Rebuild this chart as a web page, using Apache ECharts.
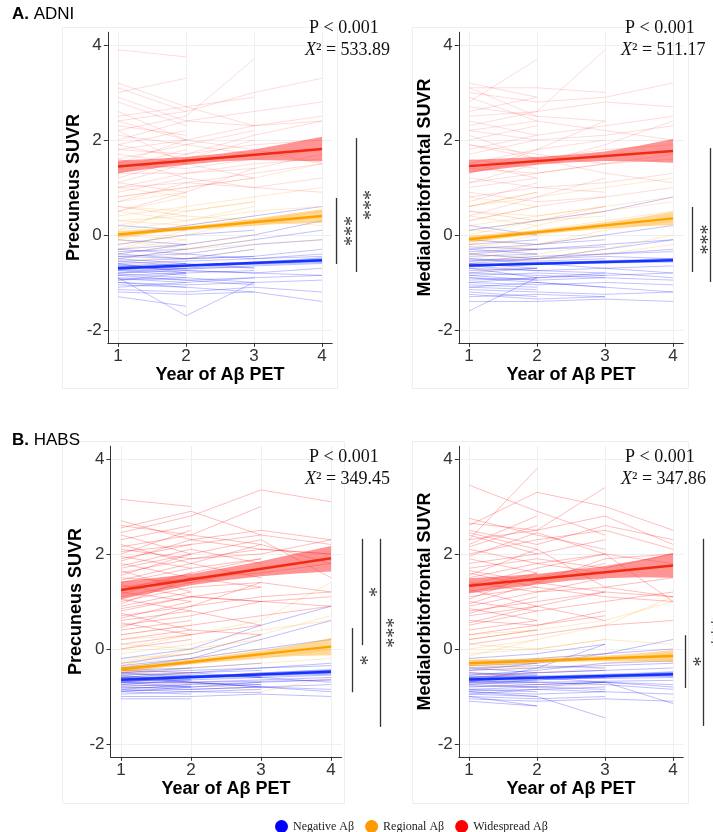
<!DOCTYPE html>
<html>
<head>
<meta charset="utf-8">
<script src="https://cdn.jsdelivr.net/npm/echarts@6/dist/echarts.min.js"></script>
<style>
  html, body { margin: 0; padding: 0; background: #ffffff; }
  #chart { width: 713px; height: 832px; }
</style>
</head>
<body>
<div id="chart"></div>
<script>
// ---- axes ----
const years = [1, 2, 3, 4];
const xTicks = [1, 2, 3, 4];
const yTicks = [-2, 0, 2, 4];
const bandX = [1, 1.5, 2, 2.5, 3, 3.5, 4];

const groupNames = ['Negative Aβ', 'Regional Aβ', 'Widespread Aβ'];
const groupColors = ['#0000ff', '#ff9900', '#ff0000'];
const fitColors = ['#1533ff', '#ffa200', '#f22a10'];
const bandColors = ['rgba(40,60,255,0.35)', 'rgba(255,170,20,0.45)', 'rgba(255,60,60,0.55)'];

// ---- ADNI, precuneus: individual trajectories (year 1..n) ----
const adniPrecNeg = [
  [0.2,0.1],[0.0,0.2,0.4,0.6],[-0.1,-0.2],[-0.2,0.0,0.1],[-0.3,-0.4,-0.2,-0.1],
  [-0.35,-0.3],[-0.4,-0.5,-0.3],[-0.45,-0.4,-0.5,-0.4],[-0.5,-0.6],[-0.55,-0.5,-0.45],
  [-0.6,-0.55,-0.5,-0.45],[-0.62,-0.7],[-0.65,-0.6,-0.7],[-0.7,-0.72,-0.65,-0.6],[-0.72,-0.8],
  [-0.75,-0.7,-0.68],[-0.8,-0.75,-0.8,-0.7],[-0.82,-0.9],[-0.85,-0.8,-0.75],[-0.9,-0.95,-0.9,-0.85],
  [-0.92,-1.0],[-0.95,-0.9,-1.0],[-1.0,-1.05,-1.0,-0.95],[-1.05,-1.1],[-1.1,-1.0,-0.9],
  [-1.15,-1.2,-1.1,-1.2],[-1.3,-1.5],[-0.9,-1.7,-1.0],[-1.0,-1.1,-1.2,-1.4],[-0.5,-0.3,-0.1,0.1],
  [-0.6,-0.8],[-0.7,-0.6],[-0.8,-0.7,-0.6,-0.55],[-0.4,-0.2],[-0.55,-0.65,-0.6],
  [-0.65,-0.75,-0.8,-0.85],[-0.75,-0.85],[-0.85,-0.95,-1.05],[-0.45,-0.5,-0.45,-0.3],[-0.95,-0.8],
  [-1.2,-1.25,-1.2],[-0.3,-0.2,0.0,0.3]
];
const adniPrecReg = [
  [1.0,0.8],[0.8,1.0,1.2,1.5],[0.6,0.5,0.7],[0.5,0.8],[0.4,0.6,0.8,1.0],
  [0.3,0.2],[0.2,0.5,0.7],[0.1,0.3,0.5,0.6],[0.0,-0.1],[-0.1,0.2,0.4],
  [-0.2,0.0,0.3,0.5],[-0.3,-0.1],[-0.4,-0.2,0.0],[-0.5,-0.3,-0.2,-0.1],[-0.6,-0.4],
  [-0.7,-0.5,-0.3],[0.7,0.9],[0.3,0.4,0.3,0.2],[-0.1,-0.3,-0.1],[0.1,0.6],
  [-0.3,0.1,0.2,0.4],[0.5,0.3,0.6]
];
const adniPrecWide = [
  [3.9,3.75],[3.2,2.7,2.3],[3.0,3.3],[2.9,2.4,2.6,2.8],[2.4,2.6,3.0,3.3],
  [2.2,2.5,3.7],[2.3,2.1],[2.0,2.4,2.3,2.4],[2.1,1.9,1.7],[1.9,2.2],
  [1.8,2.0,2.3,2.5],[1.7,1.5],[1.6,1.9,2.2],[1.5,1.4,1.6,1.8],[1.4,1.8],
  [1.3,1.3,1.5,1.6],[1.2,1.6,2.0],[1.1,0.9],[1.0,1.3,1.4,1.7],[0.9,1.2],
  [0.8,1.0,1.2],[0.7,1.1,1.3,1.5],[0.6,0.4],[2.6,2.0],[2.5,2.7,2.9],
  [1.6,1.2,1.0,0.9],[1.9,1.6],[2.2,1.5,1.2],[1.3,1.7,2.1,2.4],[1.1,1.5],
  [0.5,0.9,1.4],[2.8,2.3],[1.8,1.7,1.9,2.0],[1.5,2.0],[1.0,1.1,1.0,1.2],
  [3.1,2.6],[2.4,2.0,1.8,1.5]
];

// ---- ADNI, medial orbitofrontal ----
const adniMofNeg = [
  [0.2,0.0],[0.1,0.3,0.5,0.8],[-0.1,-0.2,-0.1],[-0.2,-0.1],[-0.25,-0.3,-0.2,-0.1],
  [-0.3,-0.4],[-0.35,-0.3,-0.25],[-0.4,-0.5,-0.4,-0.3],[-0.45,-0.4],[-0.5,-0.55,-0.5],
  [-0.55,-0.5,-0.45,-0.5],[-0.6,-0.7],[-0.65,-0.6,-0.55],[-0.7,-0.75,-0.7,-0.65],[-0.75,-0.7],
  [-0.8,-0.85,-0.9],[-0.85,-0.8,-0.85,-0.8],[-0.9,-0.95],[-0.95,-0.9,-0.85],[-1.0,-1.05,-1.0,-1.05],
  [-1.05,-1.1],[-1.1,-1.0,-1.1],[-1.15,-1.2,-1.25,-1.2],[-1.2,-1.3],[-1.3,-1.25,-1.3],
  [-1.4,-1.4,-1.35,-1.4],[-1.6,-0.9],[-0.6,-0.5,-0.3,-0.1],[-0.7,-0.9],[-0.5,-0.6,-0.7,-0.8],
  [-0.8,-0.7],[-0.9,-1.0,-1.1,-1.2],[-0.4,-0.3],[-1.0,-0.9,-0.8],[-0.3,-0.2,0.0,0.2],
  [-0.65,-0.75,-0.8,-0.9],[-1.1,-1.15],[-0.55,-0.45,-0.4,-0.35],[-0.85,-0.95,-0.9,-0.95],[-1.25,-1.35,-1.3]
];
const adniMofReg = [
  [0.8,0.6],[0.6,0.8,1.0,1.2],[0.5,0.4,0.6],[0.3,0.6],[0.2,0.4,0.6,0.8],
  [0.1,0.0],[0.0,0.3,0.5],[-0.1,0.1,0.3,0.5],[-0.2,-0.3],[-0.3,0.0,0.2],
  [-0.4,-0.2,0.1,0.3],[-0.5,-0.3],[-0.6,-0.4,-0.2],[-0.7,-0.5,-0.4,-0.2],[-0.8,-0.6],
  [0.4,0.2,0.5,0.7],[-0.2,0.2],[0.1,0.3,0.4],[-0.4,-0.5,-0.3,0.0],[0.6,0.9],
  [-0.1,-0.2,0.0]
];
const adniMofWide = [
  [3.2,2.9],[3.1,3.1,3.0],[3.0,2.8,2.9,3.2],[2.8,3.7],[2.7,2.5,2.4],
  [2.5,2.6,2.8,2.7],[2.4,2.1],[2.3,2.6,3.9],[2.2,2.0,2.1,2.3],[2.0,2.3],
  [1.9,1.7,1.5],[1.8,2.1,2.3,2.5],[1.6,1.4],[1.5,1.8,2.0],[1.4,1.3,1.5,1.7],
  [1.3,1.6],[1.2,1.0,0.9],[1.1,1.3,1.5,1.6],[1.0,1.2],[0.9,0.7,0.8],
  [0.8,1.0,1.1,1.3],[0.6,0.9],[0.5,0.3,0.6],[0.3,0.6,0.8,1.0],[2.6,2.9],
  [2.1,1.6,1.3,1.1],[1.7,2.0],[1.3,1.8,2.4],[0.7,1.1],[2.9,2.4,2.2,2.0],
  [1.5,1.2],[1.1,1.5,1.9,2.4],[0.4,0.8,1.2],[2.2,2.4],[1.9,1.6,1.8,1.9],
  [3.1,2.5]
];

// ---- HABS, precuneus ----
const habsPrecNeg = [
  [-0.2,0.0,0.5,0.9],[-0.3,-0.1,0.3],[-0.35,-0.2,0.2,0.6],[-0.4,-0.3],[-0.45,-0.4,-0.3],
  [-0.5,-0.45,-0.4,-0.3],[-0.52,-0.55],[-0.55,-0.5,-0.45],[-0.58,-0.6,-0.55,-0.5],[-0.6,-0.65],
  [-0.62,-0.6,-0.58],[-0.65,-0.7,-0.65,-0.6],[-0.68,-0.65],[-0.7,-0.72,-0.75],[-0.72,-0.7,-0.68,-0.65],
  [-0.75,-0.8],[-0.78,-0.75,-0.7],[-0.8,-0.85,-0.8,-0.75],[-0.82,-0.8],[-0.85,-0.9,-0.85],
  [-0.88,-0.85,-0.8,-0.85],[-0.9,-0.95],[-0.95,-0.9,-0.92],[-1.0,-1.0,-0.95,-1.0],[-1.05,-1.05],
  [-0.6,-0.5,-0.4,-0.35],[-0.7,-0.6,-0.5,-0.45],[-0.5,-0.6],[-0.65,-0.55,-0.6],[-0.75,-0.65,-0.6,-0.55],
  [-0.55,-0.7,-0.8],[-0.45,-0.5,-0.6,-0.7],[-0.85,-0.75],[-0.4,-0.2,0.0,0.2],[-0.6,-0.7,-0.8,-0.9],
  [-0.9,-0.8,-0.75],[-0.5,-0.4],[-0.7,-0.8,-0.7,-0.65]
];
const habsPrecReg = [
  [0.3,0.5],[0.2,0.3,0.6,1.4],[0.1,0.0,0.2],[0.0,0.3],[-0.1,0.1,0.4,0.6],
  [-0.2,-0.1],[-0.3,-0.2,0.0],[-0.4,-0.3,-0.2,0.0],[-0.45,-0.5],[-0.5,-0.3,-0.1],
  [-0.55,-0.4,-0.3,-0.2],[-0.6,-0.5],[-0.7,-0.6,-0.5],[-0.8,-0.7,-0.9,-0.6],[-0.35,0.0],
  [-0.25,-0.1,0.3,0.7]
];
const habsPrecWide = [
  [3.15,3.0],[2.45,2.8,3.35,3.1],[2.55,2.9,2.4],[2.7,2.3,2.1,2.0],[2.15,2.4,3.0],
  [2.1,1.9,2.0,2.3],[2.0,2.5],[1.9,2.2,2.4,2.2],[1.8,1.5,1.3],[1.7,2.0],
  [1.6,1.9,2.1,2.0],[1.5,1.4],[1.4,1.7,1.9],[1.3,1.5,1.6,1.8],[1.2,1.0],
  [1.1,1.4,1.7],[1.0,1.3,1.4,1.2],[0.9,1.2],[0.8,1.1,1.3],[0.7,0.9,1.1,1.2],
  [0.6,0.8],[0.5,0.7,1.0],[0.4,0.6],[0.3,0.5,0.7,0.9],[0.2,0.4],
  [0.1,0.3,0.5],[0.0,0.2],[2.3,2.6],[2.2,1.8,1.5],[1.85,2.3,2.5,2.3],
  [1.65,1.2],[1.45,1.8,2.2],[1.25,1.6],[1.05,0.8,0.5],[0.85,1.1,1.0,0.9],
  [0.65,1.0],[0.45,0.9,1.4],[2.6,2.4,2.2,1.8],[1.95,1.7],[1.55,2.0,2.3,1.5],
  [0.95,1.5],[0.75,0.4,0.3],[1.35,1.1,1.0,1.1],[1.15,1.6,1.9],[2.05,2.2],
  [0.55,0.3],[1.75,2.1,1.8],[2.4,2.0]
];

// ---- HABS, medial orbitofrontal ----
const habsMofNeg = [
  [-0.2,-0.1,0.1],[-0.3,-0.2,-0.1,0.0],[-0.35,-0.3],[-0.4,-0.35,-0.4],[-0.45,-0.4,-0.35,-0.3],
  [-0.5,-0.55],[-0.55,-0.5,-0.45],[-0.58,-0.6,-0.55,-0.5],[-0.6,-0.55],[-0.62,-0.65,-0.6],
  [-0.65,-0.6,-0.62,-0.6],[-0.68,-0.7],[-0.7,-0.75,-0.7],[-0.72,-0.7,-0.68,-0.66],[-0.75,-0.8],
  [-0.78,-0.8,-0.85],[-0.8,-0.75,-0.7,-0.75],[-0.85,-0.9],[-0.88,-0.85,-0.8],[-0.9,-0.95,-0.9,-0.95],
  [-0.95,-1.0],[-1.0,-1.05,-1.0],[-1.05,-1.1,-1.05,-1.1],[-1.1,-1.2],[-0.7,-0.4,0.1],
  [-0.9,-1.0,-1.45],[-0.6,-0.5,-0.45,-0.4],[-0.5,-0.6,-0.7,-0.8],[-0.75,-0.65],[-0.65,-0.7,-0.75,-0.85],
  [-0.4,-0.5],[-0.85,-0.8,-0.7,-1.15],[-0.55,-0.45,-0.3,-0.25],[-0.95,-0.85,-0.9],[-0.45,-0.3,-0.1,0.2],
  [-1.0,-1.2],[-0.7,-0.65,-0.6,-0.55]
];
const habsMofReg = [
  [0.3,0.4],[0.2,0.4,0.6,1.0],[0.1,0.0,0.2],[0.0,0.2],[-0.1,0.0,0.2,0.1],
  [-0.2,-0.3],[-0.25,-0.2,-0.1],[-0.3,-0.25,-0.2,-0.1],[-0.35,-0.4],[-0.4,-0.3,-0.2],
  [-0.45,-0.4,-0.3,-0.2],[-0.5,-0.6],[-0.6,-0.5,-0.4],[-0.15,0.2,0.5,1.1],[-0.7,-0.8,-0.75]
];
const habsMofWide = [
  [3.45,2.9,2.4],[2.3,3.8],[2.75,2.4,2.1],[2.6,3.3,3.0,2.5],[2.5,2.2,2.6,2.3],
  [2.4,2.0],[2.3,2.5,2.8,2.2],[2.2,2.8],[2.1,1.8,1.6],[2.0,2.3,2.5,2.1],
  [1.9,1.6],[1.8,2.0,2.3],[1.7,1.9,1.7,2.0],[1.6,1.3],[1.5,1.8,2.0],
  [1.4,1.2,1.3,1.5],[1.3,1.6],[1.2,1.5,1.8],[1.1,1.3,1.1,1.0],[1.0,0.8],
  [0.9,1.2,1.5],[0.8,1.0,1.2,1.1],[0.7,0.9],[0.6,0.5,0.8],[0.5,0.8,1.0,1.2],
  [0.4,0.6],[0.3,0.5,0.7],[0.2,0.4],[0.1,0.3,0.5,0.6],[2.65,2.5,3.4],
  [1.95,2.45,2.0,1.8],[1.55,2.1],[1.25,0.9,0.6],[0.95,1.4,1.9,2.0],[0.75,1.1],
  [2.45,2.1,1.3,1.1],[1.65,1.4,1.2],[1.05,1.6],[0.55,0.9,1.2],[2.15,2.6],
  [1.35,1.7,2.0,1.0],[0.85,0.6]
];

// ---- model fits: value at year 1 and year 4 ----
const adniPrecFitNeg = [-0.70, -0.53], adniPrecFitReg = [0.01, 0.40], adniPrecFitWide = [1.44, 1.81];
const adniMofFitNeg = [-0.64, -0.53], adniMofFitReg = [-0.09, 0.35], adniMofFitWide = [1.45, 1.77];
const habsPrecFitNeg = [-0.65, -0.48], habsPrecFitReg = [-0.43, 0.05], habsPrecFitWide = [1.24, 1.91];
const habsMofFitNeg = [-0.64, -0.53], habsMofFitReg = [-0.30, -0.15], habsMofFitWide = [1.33, 1.76];

// ---- 95% confidence bands at bandX ----
const adniPrecNegLo = [-0.74,-0.70,-0.67,-0.65,-0.63,-0.61,-0.59];
const adniPrecNegHi = [-0.66,-0.64,-0.62,-0.59,-0.56,-0.52,-0.47];
const adniPrecRegLo = [-0.06,0.03,0.10,0.16,0.20,0.24,0.26];
const adniPrecRegHi = [0.08,0.13,0.18,0.25,0.34,0.44,0.54];
const adniPrecWideLo = [1.30,1.40,1.48,1.55,1.58,1.57,1.55];
const adniPrecWideHi = [1.57,1.60,1.64,1.71,1.80,1.93,2.07];

const adniMofNegLo = [-0.68,-0.65,-0.63,-0.615,-0.60,-0.59,-0.58];
const adniMofNegHi = [-0.60,-0.59,-0.57,-0.555,-0.53,-0.51,-0.48];
const adniMofRegLo = [-0.16,-0.07,0.02,0.08,0.13,0.18,0.21];
const adniMofRegHi = [-0.02,0.04,0.10,0.18,0.27,0.37,0.49];
const adniMofWideLo = [1.31,1.40,1.48,1.53,1.56,1.55,1.52];
const adniMofWideHi = [1.58,1.61,1.64,1.69,1.76,1.88,2.02];

const habsPrecNegLo = [-0.70,-0.66,-0.63,-0.60,-0.58,-0.56,-0.54];
const habsPrecNegHi = [-0.60,-0.58,-0.55,-0.53,-0.50,-0.46,-0.42];
const habsPrecRegLo = [-0.50,-0.40,-0.32,-0.25,-0.19,-0.15,-0.13];
const habsPrecRegHi = [-0.36,-0.30,-0.22,-0.13,-0.03,0.09,0.23];
const habsPrecWideLo = [1.05,1.20,1.34,1.45,1.53,1.59,1.63];
const habsPrecWideHi = [1.42,1.50,1.58,1.71,1.85,2.01,2.17];

const habsMofNegLo = [-0.69,-0.65,-0.63,-0.61,-0.60,-0.59,-0.59];
const habsMofNegHi = [-0.59,-0.58,-0.56,-0.54,-0.52,-0.50,-0.47];
const habsMofRegLo = [-0.37,-0.33,-0.29,-0.27,-0.26,-0.26,-0.28];
const habsMofRegHi = [-0.23,-0.22,-0.21,-0.18,-0.14,-0.09,-0.02];
const habsMofWideLo = [1.17,1.27,1.36,1.44,1.49,1.51,1.50];
const habsMofWideHi = [1.49,1.53,1.58,1.66,1.75,1.87,2.02];

// ---- panel statistics and pairwise brackets [x, yFrom, yTo, labelX, label] ----
const panelStats = [
  ['P < 0.001', '533.89'], ['P < 0.001', '511.17'],
  ['P < 0.001', '349.45'], ['P < 0.001', '347.86']
];
const adniPrecBrackets = [[4.21, 0.78, -0.61, 4.31, '***'], [4.50, 2.04, -0.78, 4.59, '***']];
const adniMofBrackets = [[4.28, 0.59, -0.78, 4.38, '***'], [4.54, 1.83, -0.99, 4.65, '***']];
const habsPrecBrackets = [[4.30, 0.44, -0.91, 4.40, '*'], [4.44, 2.32, 0.08, 4.53, '*'], [4.70, 2.32, -1.64, 4.78, '***']];
const habsMofBrackets = [[4.18, 0.29, -0.82, 4.28, '*'], [4.44, 2.32, -1.62, 4.55, '***']];

// ---- layout of the four panels ----
const panels = [
  { grid: { left: 107.8, top: 32.2, width: 224.4, height: 310.6 }, yName: 'Precuneus SUVR',
    subj: [adniPrecNeg, adniPrecReg, adniPrecWide], fit: [adniPrecFitNeg, adniPrecFitReg, adniPrecFitWide],
    lo: [adniPrecNegLo, adniPrecRegLo, adniPrecWideLo], hi: [adniPrecNegHi, adniPrecRegHi, adniPrecWideHi],
    brackets: adniPrecBrackets, alpha: [0.24, 0.2, 0.14], statPos: [309, 28] },
  { grid: { left: 458.8, top: 32.2, width: 224.4, height: 310.6 }, yName: 'Medialorbitofrontal SUVR',
    subj: [adniMofNeg, adniMofReg, adniMofWide], fit: [adniMofFitNeg, adniMofFitReg, adniMofFitWide],
    lo: [adniMofNegLo, adniMofRegLo, adniMofWideLo], hi: [adniMofNegHi, adniMofRegHi, adniMofWideHi],
    brackets: adniMofBrackets, alpha: [0.24, 0.2, 0.14], statPos: [625, 28] },
  { grid: { left: 110.5, top: 446.2, width: 231, height: 310.6 }, yName: 'Precuneus SUVR',
    subj: [habsPrecNeg, habsPrecReg, habsPrecWide], fit: [habsPrecFitNeg, habsPrecFitReg, habsPrecFitWide],
    lo: [habsPrecNegLo, habsPrecRegLo, habsPrecWideLo], hi: [habsPrecNegHi, habsPrecRegHi, habsPrecWideHi],
    brackets: habsPrecBrackets, alpha: [0.26, 0.22, 0.26], statPos: [309, 457] },
  { grid: { left: 458.8, top: 446.2, width: 224.4, height: 310.6 }, yName: 'Medialorbitofrontal SUVR',
    subj: [habsMofNeg, habsMofReg, habsMofWide], fit: [habsMofFitNeg, habsMofFitReg, habsMofFitWide],
    lo: [habsMofNegLo, habsMofRegLo, habsMofWideLo], hi: [habsMofNegHi, habsMofRegHi, habsMofWideHi],
    brackets: habsMofBrackets, alpha: [0.26, 0.22, 0.26], statPos: [625, 457] }
];

const sans = 'Liberation Sans';
const serif = 'Liberation Serif';
const nBand = bandX.length;

function trajectories(subjects) {
  return subjects.map(s => ({ coords: s.map((v, i) => [years[i], v]) }));
}

// one band polygon: upper edge left-to-right, then lower edge back
function renderBand(params, api) {
  const pts = [];
  for (let i = 0; i < nBand; i++) pts.push(api.coord([api.value(i), api.value(2 * nBand + i)]));
  for (let i = nBand - 1; i >= 0; i--) pts.push(api.coord([api.value(i), api.value(nBand + i)]));
  return { type: 'polygon', shape: { points: pts }, style: { fill: api.visual('color') } };
}

const grids = [], xAxes = [], yAxes = [], series = [];
const xDims = bandX.map((_, i) => i);
const yDims = bandX.map((_, i) => nBand + i).concat(bandX.map((_, i) => 2 * nBand + i));

panels.forEach((p, g) => {
  grids.push(Object.assign({ containLabel: false }, p.grid));
  xAxes.push({
    gridIndex: g, type: 'value', min: 0.85, max: 4.15,
    name: 'Year of Aβ PET', nameLocation: 'middle', nameGap: 21,
    nameTextStyle: { fontFamily: sans, fontWeight: 'bold', fontSize: 18, color: '#000' },
    axisLine: { show: true, onZero: false, lineStyle: { color: '#333', width: 1 } },
    axisTick: { show: true, length: 4, customValues: xTicks, lineStyle: { color: '#333' } },
    axisLabel: { customValues: xTicks, fontFamily: sans, fontSize: 17, color: '#333', margin: 5 },
    splitLine: { show: true, lineStyle: { color: '#efefef', width: 1 } }
  });
  yAxes.push({
    gridIndex: g, type: 'value', min: -2.27, max: 4.27,
    name: p.yName, nameLocation: 'middle', nameGap: 25, nameRotate: 90,
    nameTextStyle: { fontFamily: sans, fontWeight: 'bold', fontSize: 18, color: '#000' },
    axisLine: { show: true, onZero: false, lineStyle: { color: '#333', width: 1 } },
    axisTick: { show: true, length: 4, customValues: yTicks, lineStyle: { color: '#333' } },
    axisLabel: { customValues: yTicks, fontFamily: sans, fontSize: 17, color: '#333', margin: 6 },
    splitLine: { show: true, lineStyle: { color: '#efefef', width: 1 } }
  });

  // individual trajectories
  [0, 1, 2].forEach(k => {
    series.push({
      type: 'lines', coordinateSystem: 'cartesian2d', xAxisIndex: g, yAxisIndex: g,
      polyline: true, silent: true, z: 1 + k * 0.1,
      lineStyle: { color: groupColors[k], width: 1, opacity: p.alpha[k] },
      data: trajectories(p.subj[k])
    });
  });

  // confidence bands
  [0, 1, 2].forEach(k => {
    series.push({
      type: 'custom', xAxisIndex: g, yAxisIndex: g, silent: true, z: 3,
      color: bandColors[k], renderItem: renderBand, clip: true,
      encode: { x: xDims, y: yDims },
      data: [bandX.concat(p.lo[k], p.hi[k])]
    });
  });

  // fitted group trends
  [0, 1, 2].forEach(k => {
    series.push({
      name: groupNames[k], type: 'line', xAxisIndex: g, yAxisIndex: g, silent: true,
      showSymbol: false, symbol: 'none', z: 4, color: groupColors[k],
      lineStyle: { color: fitColors[k], width: 2.5 },
      data: [[1, p.fit[k][0]], [4, p.fit[k][1]]]
    });
  });
});

const option = {
  backgroundColor: '#ffffff',
  animation: false,
  grid: grids,
  xAxis: xAxes,
  yAxis: yAxes,
  series: series,
  legend: {
    data: groupNames.map((n, k) => ({ name: n, itemStyle: { color: groupColors[k] } })),
    icon: 'circle', itemWidth: 13, itemHeight: 13, itemGap: 11,
    left: 270, top: 815,
    textStyle: { fontFamily: serif, fontSize: 12, color: '#222' },
    selectedMode: false
  }
};

const chart = echarts.init(document.getElementById('chart'), null, { renderer: 'canvas' });
chart.setOption(option);

// panel frames, headings, statistics and brackets
const graphics = [];
const frames = [[62, 27, 275, 361], [412, 27, 276, 361], [62, 441, 282, 362], [412, 441, 276, 362]];
frames.forEach(f => graphics.push({
  type: 'rect', silent: true, z: -1,
  shape: { x: f[0] + 0.5, y: f[1] + 0.5, width: f[2], height: f[3] },
  style: { fill: null, stroke: '#eeeeee', lineWidth: 1 }
}));

[['A.', 'ADNI', 14], ['B.', 'HABS', 440]].forEach(h => graphics.push({
  type: 'text', silent: true,
  style: {
    x: 12, y: h[2], text: '{b|' + h[0] + '} ' + h[1], verticalAlign: 'middle',
    font: '17px ' + sans, fill: '#000',
    rich: { b: { fontWeight: 'bold', fontSize: 17, fontFamily: sans, fill: '#000' } }
  }
}));

panels.forEach((p, g) => {
  const s = panelStats[g];
  graphics.push({
    type: 'text', silent: true,
    style: { x: p.statPos[0], y: p.statPos[1], text: s[0], verticalAlign: 'middle',
      font: '18px ' + serif, fill: '#111' }
  });
  graphics.push({
    type: 'text', silent: true,
    style: { x: p.statPos[0] - 4, y: p.statPos[1] + 22, text: '{i|X}² = ' + s[1], verticalAlign: 'middle',
      font: '18px ' + serif, fill: '#111',
      rich: { i: { fontStyle: 'italic', fontSize: 18, fontFamily: serif, fill: '#111' } } }
  });
  p.brackets.forEach(b => {
    const a = chart.convertToPixel({ gridIndex: g }, [b[0], b[1]]);
    const c = chart.convertToPixel({ gridIndex: g }, [b[0], b[2]]);
    const t = chart.convertToPixel({ gridIndex: g }, [b[3], (b[1] + b[2]) / 2]);
    graphics.push({
      type: 'line', silent: true,
      shape: { x1: Math.round(a[0]) + 0.5, y1: a[1], x2: Math.round(c[0]) + 0.5, y2: c[1] },
      style: { stroke: '#333', lineWidth: 1.3 }
    });
    graphics.push({
      type: 'text', silent: true, x: t[0], y: t[1], rotation: -Math.PI / 2,
      style: { x: 0, y: 0, text: b[4], align: 'center', verticalAlign: 'middle',
        font: '20px ' + serif, fill: '#333' }
    });
  });
});

chart.setOption({ graphic: graphics });
</script>
</body>
</html>
